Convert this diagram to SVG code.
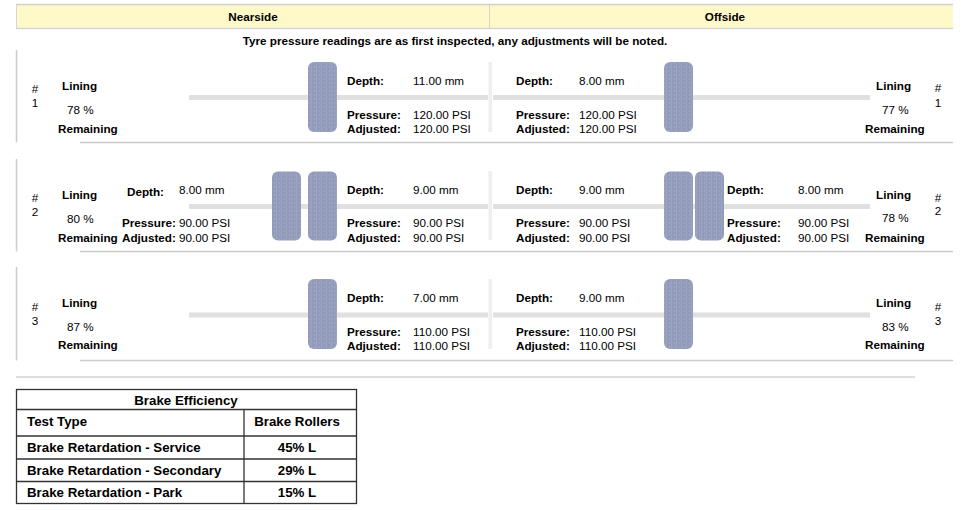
<svg xmlns="http://www.w3.org/2000/svg" width="974" height="510" viewBox="0 0 974 510">
<style>
text{font-family:"Liberation Sans",Arial,sans-serif;font-size:11.7px;fill:#000}
.b{font-weight:bold}
.m{text-anchor:middle}
.t{font-size:13.3px;font-weight:bold}
.band{fill:#e0e0e0}
.vbar{fill:#eeeeee}
.sec{stroke:#cccccc;stroke-width:1.5;fill:none}
.tyre{fill:url(#tread)}
.tb{stroke:#333;stroke-width:1.3;fill:none}
</style>
<defs>
<pattern id="tread" width="5" height="4" patternUnits="userSpaceOnUse">
<rect width="5" height="4" fill="#949cbc"/>
<rect x="1" width="1" height="4" fill="#9ca4c2"/>
<rect x="3" y="0" width="1" height="2" fill="#8f98b8"/>
<rect x="4" y="2" width="1" height="2" fill="#9ea6c3"/>
</pattern>
</defs>
<rect width="974" height="510" fill="#fff"/>
<g id="header">
<rect x="16" y="5" width="937" height="23" fill="#fff8c9"/>
<line x1="16" y1="4.5" x2="953" y2="4.5" stroke="#d0d0d0" stroke-width="1.5"/>
<line x1="16" y1="28.5" x2="953" y2="28.5" stroke="#d6d6d6" stroke-width="1.5"/>
<line x1="16.5" y1="4" x2="16.5" y2="29" stroke="#d6d6d6" stroke-width="1"/>
<line x1="489.5" y1="5" x2="489.5" y2="28" stroke="#d6d6d6" stroke-width="1"/>
<text class="b m" x="253" y="21">Nearside</text>
<text class="b m" x="725" y="21">Offside</text>
<text class="b m" x="455" y="45">Tyre pressure readings are as first inspected, any adjustments will be noted.</text>
</g>
<g id="axle-1">
<path class="sec" d="M16.5 50V142.5M80 142.5H953"/>
<rect class="band" x="189" y="95" width="299" height="5"/>
<rect class="band" x="493" y="95" width="377" height="5"/>
<rect class="vbar" x="488.5" y="62" width="3.5" height="70"/>
<rect class="tyre" x="308" y="62" width="29" height="70" rx="6"/>
<rect class="tyre" x="664" y="62" width="29" height="70" rx="6"/>
<text class="m" x="35" y="93">#</text><text class="m" x="35" y="107">1</text>
<text class="b" x="62" y="90">Lining</text><text x="67" y="114">78 %</text><text class="b" x="58" y="132.5">Remaining</text>
<text class="b" x="347" y="84.5">Depth:</text><text x="413" y="84.5">11.00 mm</text>
<text class="b" x="347" y="119">Pressure:</text><text x="413" y="119">120.00 PSI</text>
<text class="b" x="347" y="132.5">Adjusted:</text><text x="413" y="132.5">120.00 PSI</text>
<text class="b" x="516" y="84.5">Depth:</text><text x="579" y="84.5">8.00 mm</text>
<text class="b" x="516" y="119">Pressure:</text><text x="579" y="119">120.00 PSI</text>
<text class="b" x="516" y="132.5">Adjusted:</text><text x="579" y="132.5">120.00 PSI</text>
<text class="b" x="876" y="90">Lining</text><text x="882" y="113.5">77 %</text><text class="b" x="865" y="132.5">Remaining</text>
<text class="m" x="938" y="92">#</text><text class="m" x="938" y="107">1</text>
</g>
<g id="axle-2">
<path class="sec" d="M16.5 159V251.5M80 251.5H953"/>
<rect class="band" x="189" y="204" width="299" height="5"/>
<rect class="band" x="493" y="204" width="377" height="5"/>
<rect class="vbar" x="488.5" y="171" width="3.5" height="69"/>
<rect class="tyre" x="272" y="171.5" width="29" height="69" rx="6"/>
<rect class="tyre" x="308" y="171.5" width="29" height="69" rx="6"/>
<rect class="tyre" x="664" y="171.5" width="29" height="69" rx="6"/>
<rect class="tyre" x="695" y="171.5" width="29" height="69" rx="6"/>
<text class="m" x="35" y="202">#</text><text class="m" x="35" y="216">2</text>
<text class="b" x="62" y="199">Lining</text><text x="67" y="222.5">80 %</text><text class="b" x="58" y="242">Remaining</text>
<text class="b" x="127" y="196">Depth:</text><text x="179" y="194">8.00 mm</text>
<text class="b" x="122" y="227">Pressure:</text><text x="179" y="227">90.00 PSI</text>
<text class="b" x="122" y="242.3">Adjusted:</text><text x="179" y="242.3">90.00 PSI</text>
<text class="b" x="347" y="194">Depth:</text><text x="413" y="194">9.00 mm</text>
<text class="b" x="347" y="227">Pressure:</text><text x="413" y="227">90.00 PSI</text>
<text class="b" x="347" y="242.3">Adjusted:</text><text x="413" y="242.3">90.00 PSI</text>
<text class="b" x="516" y="194">Depth:</text><text x="579" y="194">9.00 mm</text>
<text class="b" x="516" y="227">Pressure:</text><text x="579" y="227">90.00 PSI</text>
<text class="b" x="516" y="242.3">Adjusted:</text><text x="579" y="242.3">90.00 PSI</text>
<text class="b" x="727" y="194">Depth:</text><text x="798" y="194">8.00 mm</text>
<text class="b" x="727" y="227">Pressure:</text><text x="798" y="227">90.00 PSI</text>
<text class="b" x="727" y="242.3">Adjusted:</text><text x="798" y="242.3">90.00 PSI</text>
<text class="b" x="876" y="199">Lining</text><text x="882" y="222.3">78 %</text><text class="b" x="865" y="241.7">Remaining</text>
<text class="m" x="938" y="202">#</text><text class="m" x="938" y="215">2</text>
</g>
<g id="axle-3">
<path class="sec" d="M16.5 267V360.5M80 360.5H953"/>
<rect class="band" x="189" y="312.5" width="299" height="5"/>
<rect class="band" x="493" y="312.5" width="377" height="5"/>
<rect class="vbar" x="488.5" y="279" width="3.5" height="70"/>
<rect class="tyre" x="308" y="279" width="29" height="70" rx="6"/>
<rect class="tyre" x="664" y="279" width="29" height="70" rx="6"/>
<text class="m" x="35" y="311">#</text><text class="m" x="35" y="324.5">3</text>
<text class="b" x="62" y="307">Lining</text><text x="67" y="331">87 %</text><text class="b" x="58" y="349">Remaining</text>
<text class="b" x="347" y="301.5">Depth:</text><text x="413" y="301.5">7.00 mm</text>
<text class="b" x="347" y="336">Pressure:</text><text x="413" y="336">110.00 PSI</text>
<text class="b" x="347" y="349.5">Adjusted:</text><text x="413" y="349.5">110.00 PSI</text>
<text class="b" x="516" y="301.5">Depth:</text><text x="579" y="301.5">9.00 mm</text>
<text class="b" x="516" y="336">Pressure:</text><text x="579" y="336">110.00 PSI</text>
<text class="b" x="516" y="349.5">Adjusted:</text><text x="579" y="349.5">110.00 PSI</text>
<text class="b" x="876" y="307">Lining</text><text x="882" y="331">83 %</text><text class="b" x="865" y="349">Remaining</text>
<text class="m" x="938" y="311">#</text><text class="m" x="938" y="324.5">3</text>
</g>
<line x1="16" y1="377" x2="915" y2="377" stroke="#dddddd" stroke-width="2"/>
<g id="brake-efficiency">
<rect class="tb" x="16.5" y="389.5" width="340" height="114"/>
<path class="tb" d="M16.5 409.5H356.5M16.5 436H356.5M16.5 459H356.5M16.5 481.5H356.5M244 409.5V503.5"/>
<text class="t m" x="186" y="404.5">Brake Efficiency</text>
<text class="t" x="27" y="426">Test Type</text><text class="t m" x="297" y="426">Brake Rollers</text>
<text class="t" x="27" y="452">Brake Retardation - Service</text><text class="t m" x="297" y="452">45% L</text>
<text class="t" x="27" y="474.5">Brake Retardation - Secondary</text><text class="t m" x="297" y="474.5">29% L</text>
<text class="t" x="27" y="496.5">Brake Retardation - Park</text><text class="t m" x="297" y="496.5">15% L</text>
</g>
</svg>
